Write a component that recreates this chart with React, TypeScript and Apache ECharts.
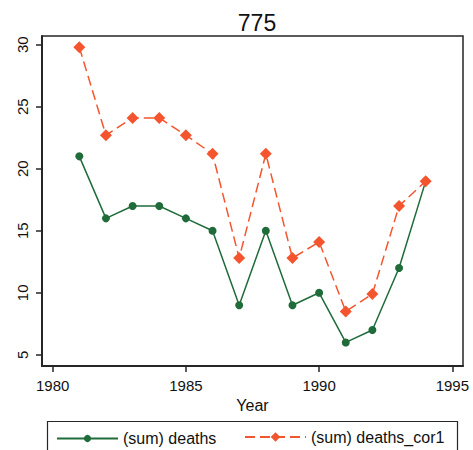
import React, { useEffect, useRef } from "react";
import * as echarts from "echarts";

const years = [1981, 1982, 1983, 1984, 1985, 1986, 1987, 1988, 1989, 1990, 1991, 1992, 1993, 1994];
const deaths = [21, 16, 17, 17, 16, 15, 9, 15, 9, 10, 6, 7, 12, 19];
const deathsCor1 = [29.8, 22.7, 24.1, 24.1, 22.7, 21.2, 12.8, 21.2, 12.8, 14.1, 8.5, 9.9, 17, 19];
const xTicks = [1980, 1985, 1990, 1995];
const yTicks = [5, 10, 15, 20, 25, 30];
const seriesNames = ["(sum) deaths", "(sum) deaths_cor1"];
const title = "775";
const xName = "Year";

const GREEN = "#1f6b3a";
const ORANGE = "#f4552e";
const AXIS = "#262626";
const FONT = "Liberation Sans, Arial, sans-serif";

export default function App() {
  const ref = useRef<HTMLDivElement>(null);
  useEffect(() => {
    if (!ref.current) return;
    const chart = echarts.init(ref.current, undefined, { renderer: "svg" });
    const legendBase = {
      top: 428,
      padding: 0,
      itemWidth: 61,
      textStyle: { fontFamily: FONT, fontSize: 16, color: "#111" },
    };
    chart.setOption({
      animation: false,
      backgroundColor: "#ffffff",
      textStyle: { fontFamily: FONT },
      title: {
        text: title,
        left: 252,
        textAlign: "center",
        top: 6,
        textStyle: { fontFamily: FONT, fontSize: 23, fontWeight: "normal", color: "#111" },
      },
      grid: {
        left: 42,
        top: 36,
        right: 10,
        bottom: 84,
        show: true,
        borderColor: AXIS,
        borderWidth: 1.5,
        backgroundColor: "transparent",
      },
      legend: [
        { ...legendBase, data: [seriesNames[0]], left: 56, itemHeight: 9, top: 430.5 },
        { ...legendBase, data: [seriesNames[1]], left: 244, itemHeight: 12, top: 429 },
      ],
      graphic: [
        {
          type: "rect",
          shape: { x: 47.5, y: 421.5, width: 410, height: 40 },
          style: { fill: "none", stroke: AXIS, lineWidth: 1.2 },
          z: -1,
        },
      ],
      xAxis: {
        type: "value",
        min: 1979.6,
        max: 1995.4,
        name: xName,
        nameLocation: "middle",
        nameGap: 28,
        nameTextStyle: { fontFamily: FONT, fontSize: 16, color: "#111" },
        splitLine: { show: false },
        axisLine: { show: true, lineStyle: { color: AXIS, width: 2 } },
        axisTick: { show: true, length: 6, lineStyle: { color: AXIS, width: 1.5 }, customValues: xTicks },
        axisLabel: {
          customValues: xTicks,
          formatter: (v: number) => String(v),
          fontFamily: FONT,
          fontSize: 15,
          color: "#111",
          margin: 12,
        },
      },
      yAxis: {
        type: "value",
        min: 4.1,
        max: 30.7,
        splitLine: { show: false },
        axisLine: { show: true, lineStyle: { color: AXIS, width: 2 } },
        axisTick: { show: true, length: 6, lineStyle: { color: AXIS, width: 1.5 }, customValues: yTicks },
        axisLabel: {
          customValues: yTicks,
          formatter: (v: number) => String(v),
          rotate: 90,
          fontFamily: FONT,
          fontSize: 15,
          color: "#111",
          margin: 12,
        },
      },
      series: [
        {
          name: seriesNames[0],
          type: "line",
          data: years.map((y, i) => [y, deaths[i]]),
          symbol: "circle",
          symbolSize: 8,
          itemStyle: { color: GREEN },
          lineStyle: { color: GREEN, width: 1.5 },
        },
        {
          name: seriesNames[1],
          type: "line",
          data: years.map((y, i) => [y, deathsCor1[i]]),
          symbol: "diamond",
          symbolSize: 12,
          itemStyle: { color: ORANGE },
          lineStyle: { color: ORANGE, width: 1.5, type: [10, 5] },
        },
      ],
    });
    return () => chart.dispose();
  }, []);
  return (
    <div
      ref={ref}
      style={{ position: "fixed", left: 0, top: 0, width: 473, height: 450 }}
    />
  );
}
